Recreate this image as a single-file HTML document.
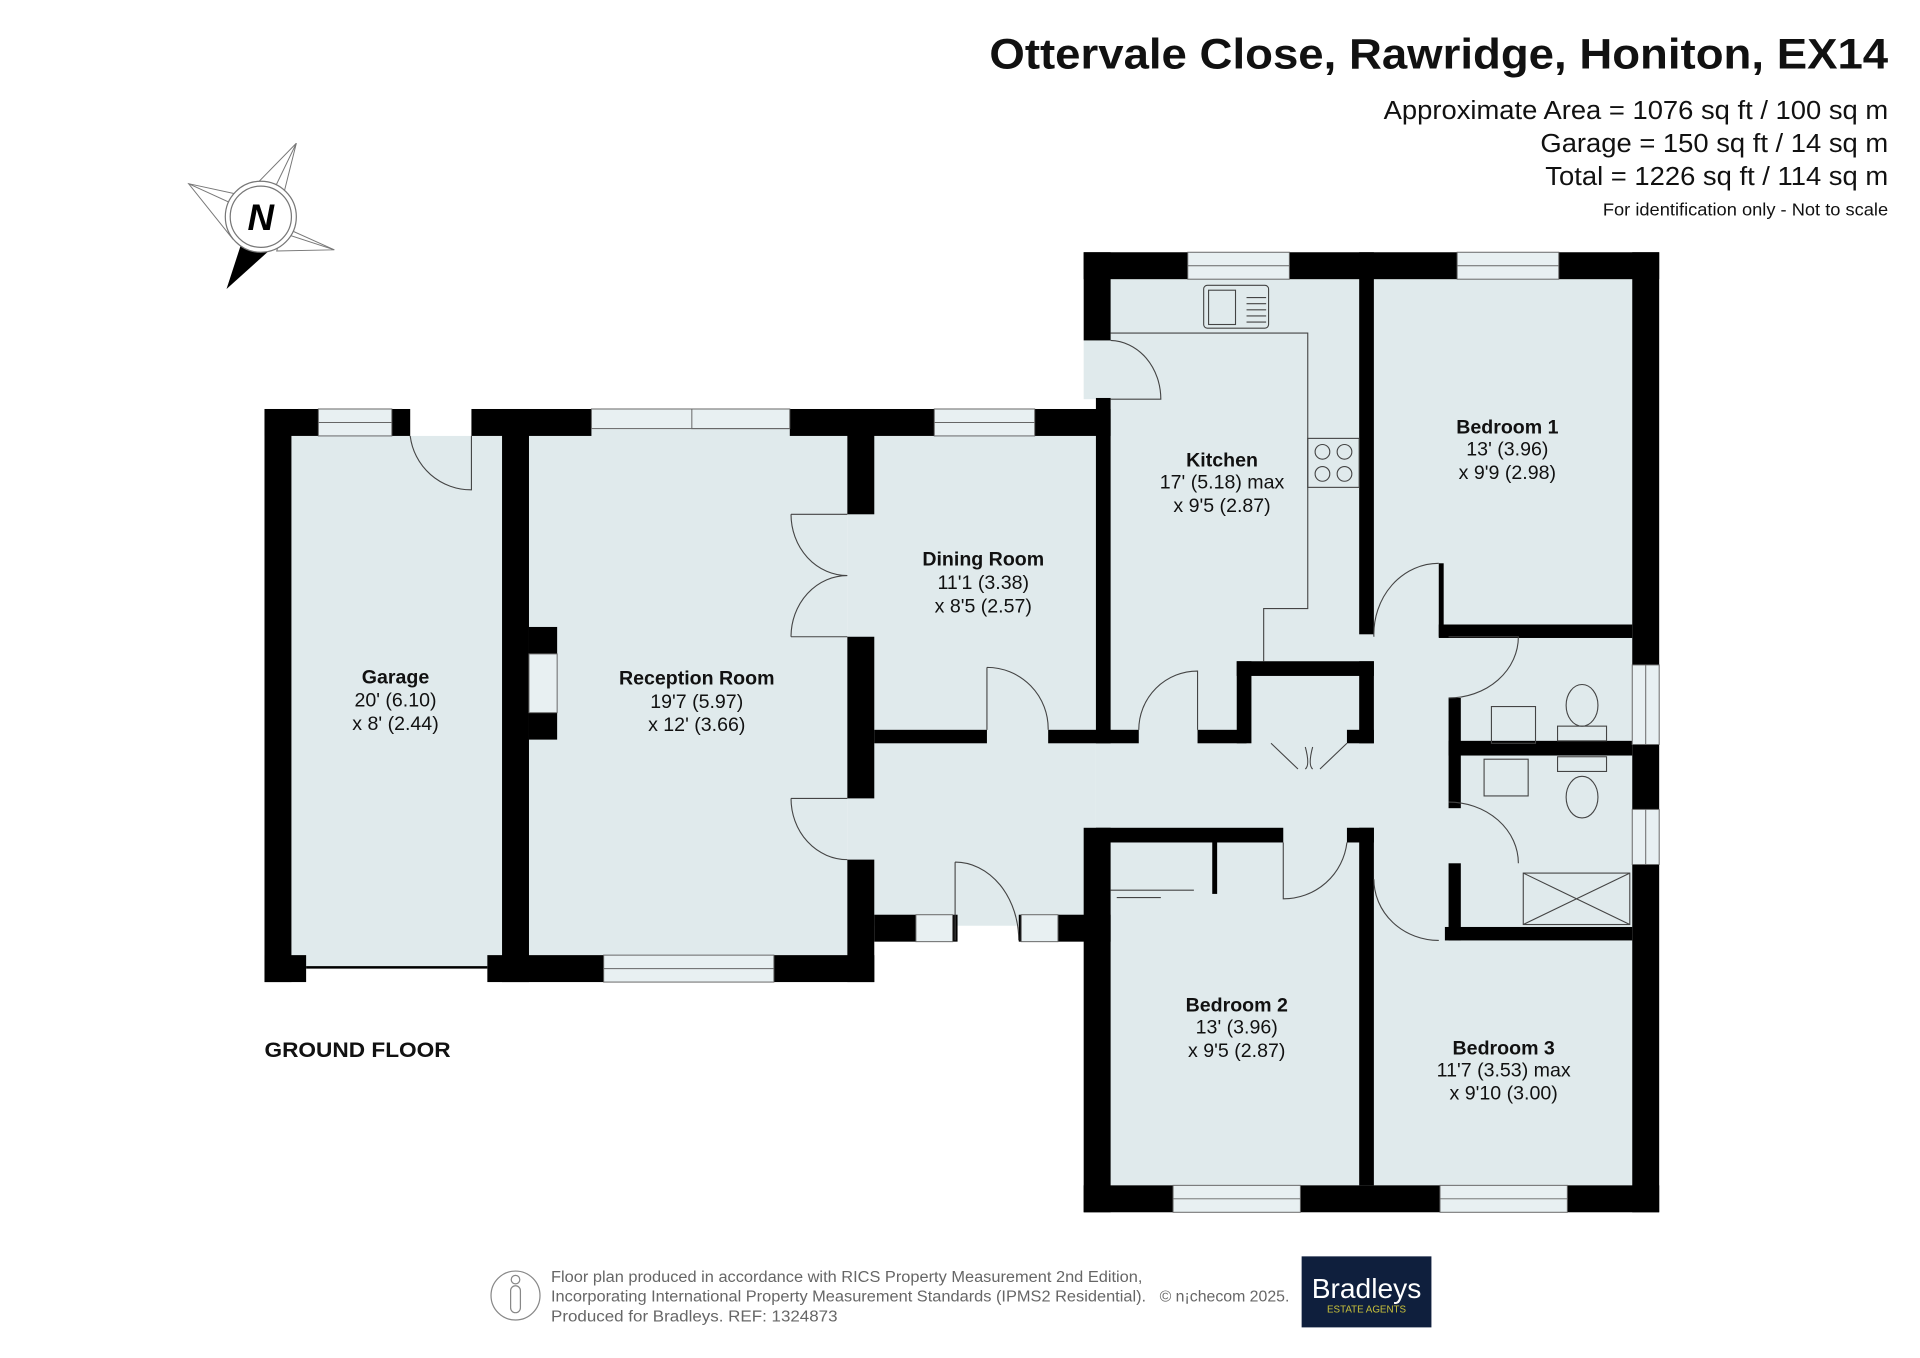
<!DOCTYPE html>
<html><head><meta charset="utf-8"><style>
html,body{margin:0;padding:0;background:#fff;}
svg{display:block}
text{font-family:"Liberation Sans",Arial,sans-serif;}
</style></head><body>
<svg width="1920" height="1358" viewBox="0 0 1568 1109" preserveAspectRatio="none" xmlns="http://www.w3.org/2000/svg">
<rect width="1568" height="1109" fill="#fff"/>
<!-- header -->
<text x="808" y="56" font-size="35" font-weight="bold" fill="#111" textLength="734" lengthAdjust="spacingAndGlyphs">Ottervale Close, Rawridge, Honiton, EX14</text>
<text x="1130" y="97" font-size="21" fill="#111" textLength="412" lengthAdjust="spacingAndGlyphs">Approximate Area = 1076 sq ft / 100 sq m</text>
<text x="1258" y="124" font-size="21" fill="#111" textLength="284" lengthAdjust="spacingAndGlyphs">Garage = 150 sq ft / 14 sq m</text>
<text x="1262" y="151" font-size="21" fill="#111" textLength="280" lengthAdjust="spacingAndGlyphs">Total = 1226 sq ft / 114 sq m</text>
<text x="1309" y="176" font-size="14" fill="#111" textLength="233" lengthAdjust="spacingAndGlyphs">For identification only - Not to scale</text>
<!-- compass -->
<g stroke="#777" stroke-width="0.8" fill="#fff">
<polygon points="242,117 225,160 200,160"/>
<polygon points="242,117 213,177 230,165"/>
<polygon points="154,150 200,160 190,195"/>
<polygon points="273,204 230,190 226,205"/>
<polygon points="154,150 213,177 273,204 213,177"/>
</g>
<polygon points="185,236 198,196 225,200" fill="#000"/>
<circle cx="213" cy="177" r="29" fill="#fff" stroke="#777" stroke-width="1"/>
<circle cx="213" cy="177" r="25" fill="#fff" stroke="#777" stroke-width="1"/>
<text x="213" y="188" text-anchor="middle" font-size="30" font-weight="bold" font-style="italic" fill="#000">N</text>
<!-- floors fill -->
<g fill="#e0eaec">
<rect x="238" y="356" width="172" height="434"/>
<rect x="432" y="350" width="260" height="430"/>
<rect x="692" y="356" width="203" height="400"/>
<rect x="895" y="228" width="438" height="740"/>
<rect x="885" y="278" width="22" height="48"/>
</g>
<!-- walls -->
<g fill="#000">
<rect x="216" y="334" width="22" height="468"/>
<rect x="216" y="334" width="44" height="22"/>
<rect x="320" y="334" width="15" height="22"/>
<rect x="385" y="334" width="98" height="22"/>
<rect x="410" y="334" width="22" height="468"/>
<rect x="216" y="780" width="34" height="22"/>
<rect x="398" y="780" width="95" height="22"/>
<rect x="432" y="512" width="23" height="22"/>
<rect x="432" y="582" width="23" height="22"/>
<rect x="645" y="334" width="118" height="22"/>
<rect x="632" y="780" width="82" height="22"/>
<rect x="692" y="334" width="22" height="86"/>
<rect x="692" y="520" width="22" height="132"/>
<rect x="692" y="702" width="22" height="100"/>
<rect x="845" y="334" width="62" height="22"/>
<rect x="714" y="596" width="92" height="11"/>
<rect x="856" y="596" width="74" height="11"/>
<rect x="895" y="325" width="12" height="282"/>
<rect x="714" y="747" width="34" height="22"/>
<rect x="778" y="747" width="4" height="22"/>
<rect x="832" y="747" width="2" height="22"/>
<rect x="864" y="747" width="43" height="22"/>
<rect x="885" y="206" width="22" height="72"/>
<rect x="885" y="206" width="85" height="22"/>
<rect x="1053" y="206" width="137" height="22"/>
<rect x="1273" y="206" width="82" height="22"/>
<rect x="1110" y="206" width="12" height="312"/>
<rect x="978" y="596" width="40" height="11"/>
<rect x="1010" y="540" width="112" height="12"/>
<rect x="1010" y="540" width="12" height="67"/>
<rect x="1100" y="596" width="22" height="11"/>
<rect x="1110" y="540" width="12" height="67"/>
<rect x="1333" y="206" width="22" height="337"/>
<rect x="1333" y="608" width="22" height="53"/>
<rect x="1333" y="706" width="22" height="284"/>
<rect x="1175" y="510" width="158" height="11"/>
<rect x="1175" y="460" width="4" height="60"/>
<rect x="1183" y="570" width="10" height="90"/>
<rect x="1183" y="605" width="150" height="12"/>
<rect x="1183" y="705" width="10" height="63"/>
<rect x="1180" y="757" width="153" height="11"/>
<rect x="895" y="676" width="153" height="12"/>
<rect x="1100" y="676" width="22" height="12"/>
<rect x="885" y="676" width="22" height="314"/>
<rect x="1110" y="676" width="12" height="292"/>
<rect x="885" y="968" width="73" height="22"/>
<rect x="1062" y="968" width="114" height="22"/>
<rect x="1280" y="968" width="75" height="22"/>
<rect x="990" y="686" width="4" height="44"/>
</g>
<!-- windows -->
<g fill="#e8f0f2" stroke="#666" stroke-width="0.8">
<rect x="260" y="334" width="60" height="22"/>
<rect x="483" y="334" width="162" height="16"/>
<rect x="763" y="334" width="82" height="22"/>
<rect x="493" y="780" width="139" height="22"/>
<rect x="970" y="206" width="83" height="22"/>
<rect x="1190" y="206" width="83" height="22"/>
<rect x="748" y="747" width="30" height="22"/>
<rect x="834" y="747" width="30" height="22"/>
<rect x="958" y="968" width="104" height="22"/>
<rect x="1176" y="968" width="104" height="22"/>
<rect x="1333" y="543" width="22" height="65"/>
<rect x="1333" y="661" width="22" height="45"/>
<rect x="432" y="534" width="23" height="48"/>
</g>
<g stroke="#666" stroke-width="0.8" fill="none">
<line x1="260" y1="345" x2="320" y2="345"/><line x1="763" y1="345" x2="845" y2="345"/>
<line x1="493" y1="791" x2="632" y2="791"/><line x1="970" y1="217" x2="1053" y2="217"/>
<line x1="1190" y1="217" x2="1273" y2="217"/><line x1="958" y1="979" x2="1062" y2="979"/>
<line x1="1176" y1="979" x2="1280" y2="979"/><line x1="1344" y1="543" x2="1344" y2="608"/>
<line x1="1344" y1="661" x2="1344" y2="706"/>
<polyline points="565,334 565,350 645,350"/>
<line x1="250" y1="790" x2="398" y2="790" stroke="#000" stroke-width="2"/>
</g>
<!-- doors -->
<g stroke="#444" stroke-width="0.9" fill="none">
<path d="M335,356 A50,50 0 0 0 385,400 L385,356"/>
<path d="M646,420 A46,50 0 0 0 692,470 M692,470 A46,50 0 0 0 646,520 M646,420 L692,420 M646,520 L692,520"/>
<path d="M646,652 L692,652 M692,652 M646,652 A46,50 0 0 0 692,702"/>
<path d="M806,545 L806,596 M806,545 A50,50 0 0 1 856,596"/>
<path d="M907,278 A42,48 0 0 1 948,326 L907,326"/>
<path d="M930,596 A48,48 0 0 1 978,548 L978,596"/>
<path d="M1038,607 L1060,628 M1100,607 L1078,628 M1066,610 Q1070,625 1066,628 M1072,610 Q1068,625 1072,628"/>
<path d="M1122,520 A53,58 0 0 1 1175,460"/>
<path d="M1183,570 A57,50 0 0 0 1240,520 L1183,520"/>
<path d="M1183,655 A57,50 0 0 1 1240,705"/>
<path d="M1048,688 L1048,734 A52,52 0 0 0 1100,688"/>
<path d="M1122,718 A53,50 0 0 0 1175,768"/>
<path d="M780,704 L780,768 M780,704 A52,64 0 0 1 832,768"/>
<path d="M907,272 L1068,272 L1068,497 L1032,497 L1032,540"/>
<rect x="983" y="233" width="53" height="35" rx="3"/>
<rect x="987" y="237" width="22" height="28"/>
<rect x="1068" y="358" width="42" height="40"/>
<circle cx="1080" cy="369" r="6"/><circle cx="1098" cy="369" r="6"/>
<circle cx="1080" cy="387" r="6"/><circle cx="1098" cy="387" r="6"/>
<path d="M907,727 L975,727 M912,733 L948,733"/>
<rect x="1218" y="577" width="36" height="30"/>
<rect x="1212" y="620" width="36" height="30"/>
<rect x="1272" y="593" width="40" height="12"/>
<rect x="1272" y="618" width="40" height="12"/>
<ellipse cx="1292" cy="576" rx="13" ry="17"/>
<ellipse cx="1292" cy="651" rx="13" ry="17"/>
<rect x="1244" y="713" width="87" height="42"/>
<path d="M1244,713 L1331,755 M1331,713 L1244,755"/>
</g>
<g stroke="#444" stroke-width="0.9">
<line x1="1018" y1="243" x2="1034" y2="243"/><line x1="1018" y1="248" x2="1034" y2="248"/>
<line x1="1018" y1="253" x2="1034" y2="253"/><line x1="1018" y1="258" x2="1034" y2="258"/>
<line x1="1018" y1="263" x2="1034" y2="263"/>
</g>
<!-- labels -->
<g text-anchor="middle" fill="#111" font-size="16">
<text x="323" y="558" font-weight="bold">Garage</text><text x="323" y="577">20' (6.10)</text><text x="323" y="596">x 8' (2.44)</text>
<text x="569" y="559" font-weight="bold">Reception Room</text><text x="569" y="578">19'7 (5.97)</text><text x="569" y="597">x 12' (3.66)</text>
<text x="803" y="462" font-weight="bold">Dining Room</text><text x="803" y="481">11'1 (3.38)</text><text x="803" y="500">x 8'5 (2.57)</text>
<text x="998" y="381" font-weight="bold">Kitchen</text><text x="998" y="399">17' (5.18) max</text><text x="998" y="418">x 9'5 (2.87)</text>
<text x="1231" y="354" font-weight="bold">Bedroom 1</text><text x="1231" y="372">13' (3.96)</text><text x="1231" y="391">x 9'9 (2.98)</text>
<text x="1010" y="826" font-weight="bold">Bedroom 2</text><text x="1010" y="844">13' (3.96)</text><text x="1010" y="863">x 9'5 (2.87)</text>
<text x="1228" y="861" font-weight="bold">Bedroom 3</text><text x="1228" y="879">11'7 (3.53) max</text><text x="1228" y="898">x 9'10 (3.00)</text>
</g>
<text x="216" y="863" font-size="17" font-weight="bold" fill="#111" textLength="152" lengthAdjust="spacingAndGlyphs">GROUND FLOOR</text>
<!-- footer -->
<circle cx="421" cy="1058" r="20" fill="none" stroke="#888" stroke-width="1"/>
<rect x="417" y="1050" width="8" height="22" rx="4" fill="none" stroke="#888"/>
<circle cx="421" cy="1045" r="3.5" fill="none" stroke="#888"/>
<g font-size="12.5" fill="#666">
<text x="450" y="1047" textLength="483" lengthAdjust="spacingAndGlyphs">Floor plan produced in accordance with RICS Property Measurement 2nd Edition,</text>
<text x="450" y="1063" textLength="486" lengthAdjust="spacingAndGlyphs">Incorporating International Property Measurement Standards (IPMS2 Residential).</text>
<text x="947" y="1063" textLength="106" lengthAdjust="spacingAndGlyphs">© n¡checom 2025.</text>
<text x="450" y="1079" textLength="234" lengthAdjust="spacingAndGlyphs">Produced for Bradleys.   REF: 1324873</text>
</g>
<rect x="1063" y="1026" width="106" height="58" fill="#0f1f3d"/>
<text x="1116" y="1060" text-anchor="middle" font-size="23" fill="#fff">Bradleys</text>
<text x="1116" y="1072" text-anchor="middle" font-size="8" fill="#c9c23a">ESTATE AGENTS</text>
</svg>
</body></html>
